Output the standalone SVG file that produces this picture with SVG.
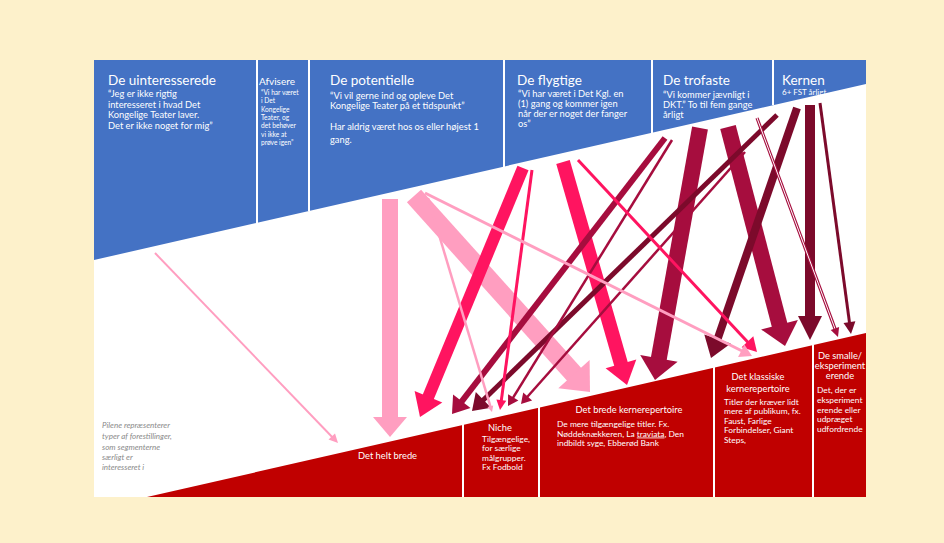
<svg xmlns="http://www.w3.org/2000/svg" width="944" height="543" viewBox="0 0 944 543">
<defs>
<style>
.t{font-family:Lato,"Open Sans","Liberation Sans",sans-serif;fill:#fff}
.h1{font-size:13.5px}
.q{font-size:9.3px}
.qs{font-size:6.6px}
.r{font-size:9.3px}
.rb{font-size:8.4px}
.note{font-family:Lato,"Open Sans","Liberation Sans",sans-serif;font-size:8px;font-style:italic;fill:#8a8a8a}
.div{stroke:#fff;stroke-width:2}
.lp{stroke:#FF9EC0;fill:#FF9EC0}
.hp{stroke:#FF1460;fill:#FF1460}
.cr{stroke:#A60D3E;fill:#A60D3E}
.dm{stroke:#7C0A2B;fill:#7C0A2B}
line{stroke-linecap:butt}
polygon.h{stroke:none}
</style>
<clipPath id="panel"><rect x="94" y="60" width="772" height="437"/></clipPath>
</defs>
<rect x="0" y="0" width="944" height="543" fill="#FDF1CB"/>
<rect x="94" y="60" width="772" height="437" fill="#fff"/>

<g id="segments">
<polygon points="94,60 866,60 866,84 94,260" fill="#4472C4"/>
<line class="div" x1="257" y1="60" x2="257" y2="223"/>
<line class="div" x1="309" y1="60" x2="309" y2="211"/>
<line class="div" x1="504" y1="60" x2="504" y2="167"/>
<line class="div" x1="652" y1="60" x2="652" y2="133"/>
<line class="div" x1="773" y1="60" x2="773" y2="105"/>
</g>

<g id="seg-uinteresserede">
<text class="t h1" x="108" y="85">De uinteresserede</text>
<text class="t q" x="108" y="97">“Jeg er ikke rigtig</text>
<text class="t q" x="108" y="107.5">interesseret i hvad Det</text>
<text class="t q" x="108" y="118">Kongelige Teater laver.</text>
<text class="t q" x="108" y="128.5">Det er ikke noget for mig”</text>
</g>
<g id="seg-afvisere">
<text class="t" x="259" y="85" font-size="10">Afvisere</text>
<text class="t qs" x="261" y="95">“Vi har været</text>
<text class="t qs" x="261" y="103">i Det</text>
<text class="t qs" x="261" y="111.5">Kongelige</text>
<text class="t qs" x="261" y="120">Teater, og</text>
<text class="t qs" x="261" y="128">det behøver</text>
<text class="t qs" x="261" y="136.5">vi ikke at</text>
<text class="t qs" x="261" y="145">prøve igen”</text>
</g>
<g id="seg-potentielle">
<text class="t h1" x="330" y="85">De potentielle</text>
<text class="t q" x="330" y="98.5">“Vi vil gerne ind og opleve Det</text>
<text class="t q" x="330" y="109">Kongelige Teater på et tidspunkt”</text>
<text class="t q" x="330" y="130">Har aldrig været hos os eller højest 1</text>
<text class="t q" x="330" y="142.5">gang.</text>
</g>
<g id="seg-flygtige">
<text class="t h1" x="517" y="85">De flygtige</text>
<text class="t q" x="518" y="96.5">“Vi har været i Det Kgl. en</text>
<text class="t q" x="518" y="106.5">(1) gang og kommer igen</text>
<text class="t q" x="518" y="117">når der er noget der fanger</text>
<text class="t q" x="518" y="127">os”</text>
</g>
<g id="seg-trofaste">
<text class="t h1" x="663" y="85">De trofaste</text>
<text class="t q" x="663" y="97.5">“Vi kommer jævnligt i</text>
<text class="t q" x="663" y="107.5">DKT.” To til fem gange</text>
<text class="t q" x="663" y="118">årligt</text>
</g>
<g id="seg-kernen">
<text class="t h1" x="782" y="85">Kernen</text>
<text class="t" x="782" y="95" font-size="8">6+ FST årligt</text>
</g>

<g id="repertoire">
<polygon points="147,497 866,333 866,497" fill="#C00000"/>
<line class="div" x1="463" y1="424" x2="463" y2="497"/>
<line class="div" x1="539" y1="407" x2="539" y2="497"/>
<line class="div" x1="714" y1="367" x2="714" y2="497"/>
<line class="div" x1="813" y1="345" x2="813" y2="497"/>
</g>

<g id="rep-helt-brede">
<text class="t r" x="358" y="459">Det helt brede</text>
</g>
<g id="rep-niche">
<text class="t r" x="500" y="430.5" text-anchor="middle">Niche</text>
<text class="t rb" x="482" y="441.5">Tilgængelige,</text>
<text class="t rb" x="482" y="451">for særlige</text>
<text class="t rb" x="482" y="460.5">målgrupper.</text>
<text class="t rb" x="482" y="470">Fx Fodbold</text>
</g>
<g id="rep-brede-kerne">
<text class="t r" x="629" y="413" text-anchor="middle">Det brede kernerepertoire</text>
<text class="t rb" x="557" y="427">De mere tilgængelige titler. Fx.</text>
<text class="t rb" x="557" y="436.5">Nøddeknækkeren, La <tspan style="text-decoration:underline">traviata</tspan>, Den</text>
<text class="t rb" x="557" y="446">indbildt syge, Ebberød Bank</text>
</g>
<g id="rep-klassiske">
<text class="t r" x="758" y="380" text-anchor="middle">Det klassiske</text>
<text class="t r" x="758" y="391.5" text-anchor="middle">kernerepertoire</text>
<text class="t rb" x="724" y="405">Titler der kræver lidt</text>
<text class="t rb" x="724" y="414">mere af publikum, fx.</text>
<text class="t rb" x="724" y="424">Faust, Farlige</text>
<text class="t rb" x="724" y="433">Forbindelser, Giant</text>
<text class="t rb" x="724" y="442.5">Steps,</text>
</g>
<g id="rep-smalle" clip-path="url(#panel)">
<text class="t r" x="840" y="359" text-anchor="middle">De smalle/</text>
<text class="t r" x="840" y="369" text-anchor="middle">eksperiment</text>
<text class="t r" x="840" y="379" text-anchor="middle">erende</text>
<text class="t rb" x="817" y="393">Det, der er</text>
<text class="t rb" x="817" y="403">eksperiment</text>
<text class="t rb" x="817" y="412.5">erende eller</text>
<text class="t rb" x="817" y="422">udpræget</text>
<text class="t rb" x="817" y="431.5">udfordrende</text>
</g>

<g id="note">
<text class="note" x="102" y="428">Pilene repræsenterer</text>
<text class="note" x="102" y="439">typer af forestillinger,</text>
<text class="note" x="102" y="449.5">som segmenterne</text>
<text class="note" x="102" y="459.5">særligt er</text>
<text class="note" x="102" y="469.5">interesseret i</text>
</g>

<g id="connectors">
<!-- thick light pink -->
<g class="lp">
<line x1="390" y1="199" x2="390" y2="419" stroke-width="16"/>
<polygon class="h" points="373,417 407,417 390,437"/>
<line x1="414" y1="196" x2="575.3" y2="375.6" stroke-width="19"/>
<polygon class="h" points="590,392 558.3,388.2 589.6,360.1"/>
</g>
<!-- thick hot pink -->
<g class="hp">
<line x1="523" y1="168" x2="427.6" y2="398.5" stroke-width="12"/>
<polygon class="h" points="420,417 414.6,390.9 442.3,402.4"/>
<line x1="563" y1="162" x2="621.5" y2="365.8" stroke-width="14"/>
<polygon class="h" points="627,385 605.6,368.3 636.3,359.4"/>
</g>
<!-- thick crimson -->
<g class="cr">
<line x1="700" y1="128" x2="658.5" y2="360.3" stroke-width="16"/>
<polygon class="h" points="655,380 640.2,355 677.6,361.7"/>
<line x1="728" y1="127" x2="780" y2="326.6" stroke-width="16"/>
<polygon class="h" points="785,346 761.1,329.5 797.9,319.9"/>
</g>
<!-- dark maroon -->
<g class="dm">
<line x1="797" y1="108" x2="716.9" y2="341" stroke-width="8"/>
<polygon class="h" points="711,358 704.3,334.5 730.8,343.6"/>
<line x1="810" y1="105" x2="810" y2="318" stroke-width="10"/>
<polygon class="h" points="798,316 822,316 810,340"/>
<line x1="820" y1="103" x2="849.7" y2="324.1" stroke-width="3"/>
<polygon class="h" points="851,334 843.5,322.9 855.4,321.3"/>
<line x1="777" y1="115" x2="482" y2="401.3" stroke-width="5"/>
<polygon class="h" points="472,411 475.8,392 491.1,407.8"/>
</g>
<!-- thinner crimson -->
<g class="cr">
<line x1="665" y1="138" x2="460.6" y2="402.9" stroke-width="6"/>
<polygon class="h" points="452,414 453.1,394.6 470.5,408.1"/>
<line x1="672" y1="140" x2="512.2" y2="399.2" stroke-width="2.5"/>
<polygon class="h" points="508,406 508.1,394.3 518.4,400.6"/>
<line x1="745" y1="152" x2="526.3" y2="398" stroke-width="2.5"/>
<polygon class="h" points="521,404 523.2,392.5 532.1,400.5"/>
<line x1="757" y1="118" x2="835.6" y2="330.4" stroke-width="3.2"/>
<line x1="757" y1="118" x2="835.6" y2="330.4" stroke="#fff" stroke-width="1"/>
<polygon class="h" points="838,337 830.7,330.1 839.1,327"/>
</g>
<!-- thin hot pink -->
<g class="hp">
<line x1="532" y1="170" x2="501.1" y2="402.1" stroke-width="3"/>
<polygon class="h" points="500,410 496.4,399.4 506.3,400.8"/>
<line x1="578" y1="160" x2="748.8" y2="343.2" stroke-width="3"/>
<polygon class="h" points="757,352 741.6,347.2 753.3,336.3"/>
</g>
<!-- thin light pink -->
<g class="lp">
<line x1="425" y1="193" x2="743.1" y2="351.5" stroke-width="3"/>
<polygon class="h" points="752,356 738.1,356.9 744.4,344.4"/>
<line x1="428" y1="198" x2="490.9" y2="408.2" stroke-width="2.5"/>
<polygon class="h" points="492,412 487.4,407.1 493.2,405.4"/>
<line x1="155" y1="253" x2="333.1" y2="438" stroke-width="2"/>
<polygon class="h" points="338,443 328.5,439.6 335,433.4"/>
</g>
</g>
</svg>
